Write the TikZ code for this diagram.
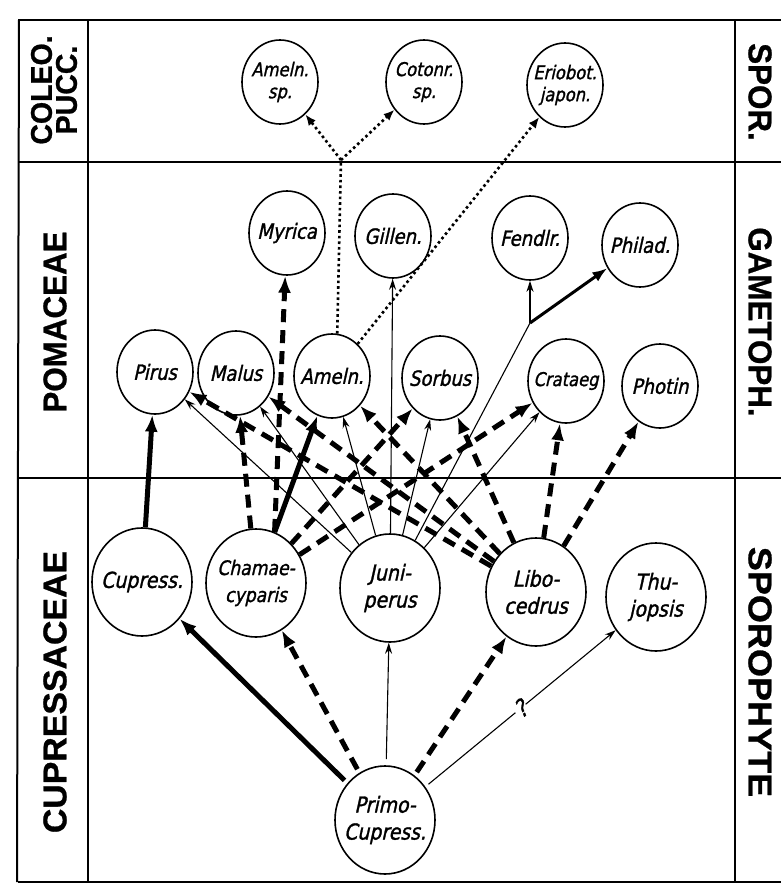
\documentclass[tikz,border=0pt]{standalone}
\usepackage{fontspec}
\setmainfont{Liberation Sans}
\newfontfamily\handfont[FakeStretch=0.86, FakeSlant=0.22, FakeBold=1.3]{DejaVu Sans}
\newfontfamily\sidefont[FakeStretch=0.95, FakeBold=0.8]{Liberation Sans Bold}
\usetikzlibrary{arrows.meta,shapes.geometric}

\tikzset{
  taxon/.style={draw, ellipse, line width=1.6pt, minimum width=76pt, minimum height=84pt,
    inner sep=-14pt, align=center, font=\handfont\fontsize{21}{22}\selectfont},
  smalltaxon/.style={taxon, font=\handfont\fontsize{19}{22}\selectfont},
  bigtaxon/.style={taxon, minimum width=100pt, minimum height=108pt,
    font=\handfont\fontsize{22}{27}\selectfont},
  side/.style={align=center, font=\sidefont\fontsize{33}{26}\selectfont},
  solidarrow/.style={line width=5pt, -{Latex[length=17pt,width=13pt]}},
  dasharrow/.style={line width=5pt, dash pattern=on 13pt off 8pt, -{Latex[length=17pt,width=13pt]}},
  thinarrow/.style={line width=1.1pt, -{Stealth[length=11pt,width=7pt]}},
  dotline/.style={line width=2.6pt, dash pattern=on 2.6pt off 3pt},
  dotarrow/.style={dotline, -{Latex[length=11pt,width=9pt]}},
}

\begin{document}
\begin{tikzpicture}[x=1pt,y=-1pt]
\useasboundingbox (0,0) rectangle (781,886);

% frame
\draw[line width=2.2pt] (18,20) -- (781,20);
\draw[line width=2.2pt] (18,882) -- (781,882);
\draw[line width=2pt] (19,20) -- (17,882);
\draw[line width=2pt] (88,20) -- (88,882);
\draw[line width=2pt] (735,20) -- (735,882);
\draw[line width=2pt] (18,162) -- (781,162);
\draw[line width=2pt] (18,478) -- (781,478);

% side labels
\node[side, rotate=90, font=\sidefont\fontsize{30}{25}\selectfont] (coleo) at (54,90) {COLEO.\\PUCC.};
\node[side, rotate=90] (pomac) at (55,322) {POMACEAE};
\node[side, rotate=90, xscale=1.08] (cupac) at (55,692) {CUPRESSACEAE};
\node[side, rotate=-90] (spor) at (760,92) {SPOR.};
\node[side, rotate=-90] (gameto) at (760,322) {GAMETOPH.};
\node[side, rotate=-90, xscale=1.15] (sporo) at (760,672) {SPOROPHYTE};

% coleo. pucc.
\node[smalltaxon] (amelnsp) at (280,82) {Ameln.\\sp.};
\node[smalltaxon] (cotonr) at (424,82) {Cotonr.\\sp.};
\node[smalltaxon] (eriobot) at (565,85) {Eriobot.\\japon.};

% pomaceae, upper row
\node[taxon] (myrica) at (287,233) {Myrica};
\node[taxon] (gillen) at (393,236) {Gillen.};
\node[taxon] (fendlr) at (530,238) {Fendlr.};
\node[taxon] (philad) at (640,245) {Philad.};

% pomaceae, lower row
\node[taxon] (pirus) at (155,372) {Pirus};
\node[taxon] (malus) at (236,373) {Malus};
\node[taxon] (ameln) at (332,376) {Ameln.};
\node[taxon] (sorbus) at (440,378) {Sorbus};
\node[taxon, font=\handfont\fontsize{19}{22}\selectfont] (crataeg) at (566,381) {Crataeg};
\node[taxon] (photin) at (660,386) {Photin};

% cupressaceae
\node[bigtaxon] (cupress) at (142,582) {Cupress.};
\node[bigtaxon, font=\handfont\fontsize{20}{27}\selectfont] (chamae) at (256,583) {Chamae-\\cyparis};
\node[bigtaxon] (juni) at (390,588) {Juni-\\perus};
\node[bigtaxon] (libo) at (536,592) {Libo-\\cedrus};
\node[bigtaxon] (thujo) at (656,597) {Thu-\\jopsis};
\node[bigtaxon] (primo) at (385,820) {Primo-\\Cupress.};

\coordinate (fork) at (341,160);
\coordinate (split) at (530,323);

% from primo-cupress.
\draw[solidarrow, shorten <=4pt] (primo) -- (cupress);
\draw[dasharrow, shorten <=4pt] (primo) -- (chamae);
\draw[thinarrow, shorten <=6pt] (primo) -- (juni);
\draw[dasharrow, shorten <=4pt] (primo) -- (libo);
\draw[thinarrow, shorten <=4pt] (primo) -- node[fill=white, inner sep=1pt, rotate=35,
  font=\handfont\fontsize{24}{24}\selectfont] (query) {?} (thujo);

% cupress. and chamaecyparis
\draw[solidarrow] (cupress) -- (pirus);
\draw[dasharrow] (chamae) -- (malus);
\draw[dasharrow] (chamae.70) -- (myrica);
\draw[solidarrow] (chamae) -- (ameln);
\draw[dasharrow] (chamae) -- (sorbus);
\draw[dasharrow] (chamae) -- (crataeg);

% juniperus
\draw[thinarrow] (juni) -- (pirus);
\draw[thinarrow] (juni) -- (malus);
\draw[thinarrow] (juni) -- (ameln);
\draw[thinarrow] (juni) -- (gillen);
\draw[thinarrow] (juni) -- (sorbus);
\draw[thinarrow] (juni) -- (crataeg);
\draw[line width=1.1pt] (juni) -- (split);
\draw[thinarrow] (split) -- (fendlr);
\draw[line width=3pt, -{Latex[length=15pt,width=11pt]}] (split) -- (philad);

% libocedrus
\draw[dasharrow] (libo) -- (pirus);
\draw[dasharrow] (libo) -- (malus);
\draw[dasharrow] (libo) -- (ameln);
\draw[dasharrow] (libo) -- (sorbus);
\draw[dasharrow] (libo) -- (crataeg);
\draw[dasharrow] (libo) -- (photin);

% ameln. to the spore hosts
\draw[dotline] (ameln.83) -- (fork);
\draw[dotarrow] (fork) -- (amelnsp);
\draw[dotarrow] (fork) -- (cotonr);
\draw[dotarrow] (ameln) -- (eriobot);

\end{tikzpicture}
\end{document}
